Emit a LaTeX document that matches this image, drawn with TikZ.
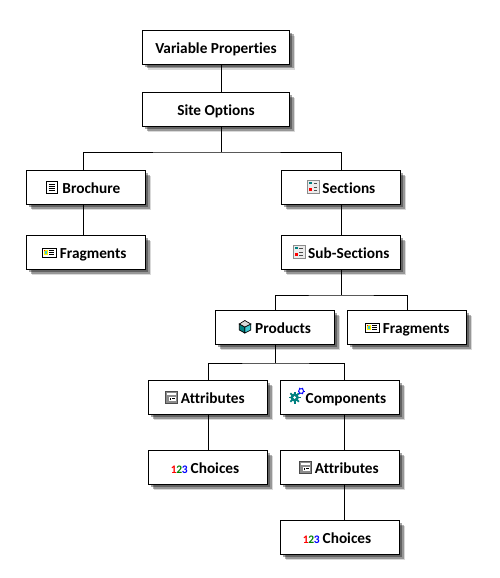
\documentclass[tikz,border=0pt]{standalone}
\usepackage{fontspec}
\setmainfont{Carlito}[Ligatures=NoCommon]
\usepackage{xcolor}
\usetikzlibrary{shadows}

\definecolor{icongray}{gray}{0.55}
\definecolor{iconteal}{RGB}{0,128,128}
\definecolor{iconcyan}{RGB}{60,200,210}

\tikzset{
  treebox/.style={draw=black,line width=1pt,fill=white,minimum width=119pt,minimum height=34pt,
    inner sep=0pt,text height=14pt,text depth=3pt,font=\bfseries\fontsize{15.3}{17}\selectfont,
    general shadow={shadow xshift=2.5pt,shadow yshift=-2.5pt,fill=black,opacity=0.35},
    general shadow={shadow xshift=4pt,shadow yshift=-4pt,fill=black,opacity=0.3},
    general shadow={shadow xshift=5.5pt,shadow yshift=-5.5pt,fill=black,opacity=0.15}},
  treeline/.style={black,line width=0.9pt},
}

% small glyphs in front of the labels, 12pt high
\newcommand{\listicon}{\tikz[baseline=0pt,x=1pt,y=1pt]{
  \draw[black,line width=0.8pt,fill=white] (0,0) rectangle (11,12);
  \foreach \y in {3,5,7,9} { \draw[black,line width=0.7pt] (2.5,\y) -- (8.5,\y); }
}\hspace{5pt}}
\newcommand{\fragicon}{\tikz[baseline=0pt,x=1pt,y=1pt]{
  \draw[black,line width=0.8pt,fill=white] (0,1) rectangle (14,10);
  \fill[yellow] (1.8,2.6) rectangle (6,8.4);
  \fill[iconcyan] (3,3.6) rectangle (5.2,7);
  \fill[red] (1.8,6.6) rectangle (3.4,8.4);
  \foreach \y in {3.2,5.5,7.8} { \draw[black,line width=0.7pt] (7.5,\y) -- (12.5,\y); }
}\hspace{3.5pt}}
\newcommand{\secticon}{\tikz[baseline=0pt,x=1pt,y=1pt]{
  \draw[icongray,line width=0.7pt,fill=gray!15] (0,0) rectangle (12,13);
  \fill[iconteal] (2,9) rectangle (5,11.5);
  \fill[red] (2,2) rectangle (5,5);
  \foreach \y in {3,6,10} { \draw[black!70,line width=0.7pt] (6.5,\y) -- (10,\y); }
}\hspace{3pt}}
\newcommand{\cubeicon}{\tikz[baseline=0pt,x=1pt,y=1pt]{
  \fill[iconcyan,draw=black,line width=0.7pt] (6,6) -- (12,9) -- (12,3) -- (6,0) -- cycle;
  \fill[iconteal,draw=black,line width=0.7pt] (6,6) -- (0.5,9) -- (0.5,3) -- (6,0) -- cycle;
  \fill[gray!30,draw=black,line width=0.7pt] (6,6) -- (12,9) -- (6,12.5) -- (0.5,9) -- cycle;
}\hspace{4pt}}
\newcommand{\attricon}{\tikz[baseline=0pt,x=1pt,y=1pt]{
  \fill[icongray,draw=black!70,line width=0.7pt] (0,0) rectangle (12,12);
  \fill[white] (1.5,8.5) rectangle (10.5,10.5);
  \fill[white] (3,2) rectangle (10,6.5);
  \draw[black,line width=0.6pt] (4.5,3) -- (4.5,5.5) (6.5,4.5) -- (9,4.5);
}\hspace{3pt}}
\newcommand{\gearicon}{\tikz[baseline=0pt,x=1pt,y=1pt]{
  \foreach \a in {0,45,...,315} { \draw[iconteal,line width=1.8pt] (6,5.5) -- ++(\a:6); }
  \fill[iconteal] (6,5.5) circle (4.2pt);
  \fill[white] (6,5.5) circle (1.6pt);
  \foreach \a in {0,60,...,300} { \draw[blue,line width=0.9pt] (12.5,12) -- ++(\a:3.6); }
  \draw[blue,line width=0.9pt,fill=white] (12.5,12) circle (2.4pt);
}\hspace{0.5pt}}
\newcommand{\numicon}{{\fontsize{11.5}{11.5}\selectfont\textcolor{red}{1}\kern-0.3pt\textcolor{green!50!black}{2}\kern-0.3pt\textcolor{blue}{3}}\hspace{3pt}}

\begin{document}
\begin{tikzpicture}[x=1pt,y=-1pt]
  % coordinates are reference pixels, y downwards
  \useasboundingbox (0,0) rectangle (500,578);
  \node[treebox,minimum width=147pt] (variable) at (216,47.5) {Variable Properties};
  \node[treebox,minimum width=147pt] (site) at (216,109.5) {Site Options};
  \node[treebox] (brochure) at (86,187.5) {\listicon Brochure\kern6pt};
  \node[treebox] (brochfrag) at (86,252.5) {\fragicon Fragments\kern4pt};
  \node[treebox] (sections) at (341,187.5) {\secticon Sections};
  \node[treebox] (subsect) at (341,252.5) {\secticon Sub-Sections};
  \node[treebox] (products) at (275,327.5) {\cubeicon Products};
  \node[treebox] (prodfrag) at (407,327.5) {\fragicon Fragments};
  \node[treebox] (attr) at (208,397.5) {\attricon Attributes\kern6pt};
  \node[treebox] (comp) at (340,397.5) {\gearicon Components\kern6pt};
  \node[treebox] (choice) at (208,467.5) {\numicon Choices\kern6pt};
  \node[treebox] (compattr) at (340,467.5) {\attricon Attributes\kern2pt};
  \node[treebox] (compchoice) at (340,537.5) {\numicon Choices\kern6pt};
  % bus lines
  \coordinate (sitebus) at (221,152);
  \coordinate (subbus) at (341,295);
  \coordinate (prodbus) at (275,363);
  \draw[treeline] ([xshift=5pt]variable.south) -- ([xshift=5pt]site.north);
  \draw[treeline] ([xshift=5pt]site.south) -- (sitebus);
  \draw[treeline] ([xshift=-3pt]brochure.north) |- (sitebus) -| (sections.north);
  \draw[treeline] ([xshift=-3pt]brochure.south) -- ([xshift=-3pt]brochfrag.north);
  \draw[treeline] (sections.south) -- (subsect.north);
  \draw[treeline] (subsect.south) -- (subbus);
  \draw[treeline] (products.north) |- (subbus) -| (prodfrag.north);
  \draw[treeline] (products.south) -- (prodbus);
  \draw[treeline] (attr.north) |- (prodbus) -| ([xshift=4pt]comp.north);
  \draw[treeline] (attr.south) -- (choice.north);
  \draw[treeline] ([xshift=4pt]comp.south) -- ([xshift=4pt]compattr.north);
  \draw[treeline] ([xshift=4pt]compattr.south) -- ([xshift=4pt]compchoice.north);
\end{tikzpicture}
\end{document}
